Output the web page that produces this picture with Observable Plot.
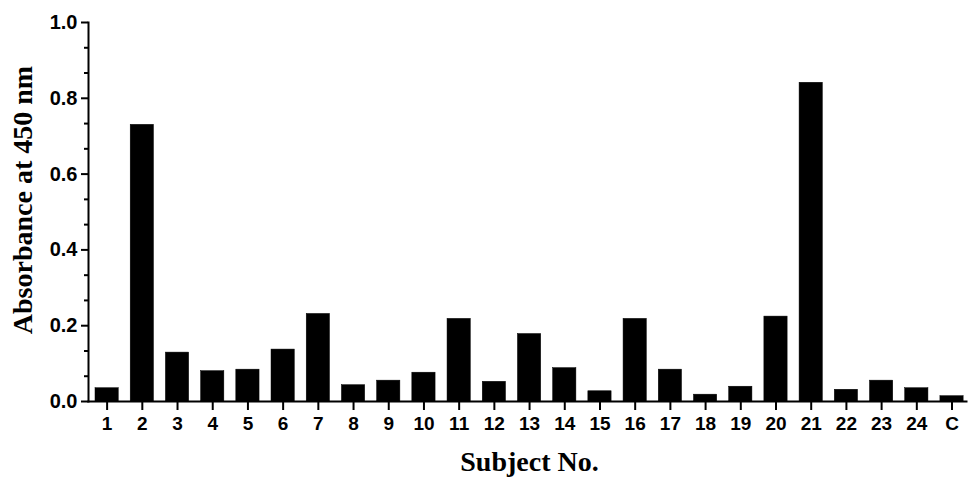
<!DOCTYPE html>
<html>
<head>
<meta charset="utf-8">
<script src="https://cdn.jsdelivr.net/npm/d3@7"></script>
<script src="https://cdn.jsdelivr.net/npm/@observablehq/plot@0.6"></script>
<style>
  html, body { margin: 0; padding: 0; background: #fff; }
  #chart svg { display: block; }
</style>
</head>
<body>
<div id="chart"></div>
<script>
const subjects = ["1","2","3","4","5","6","7","8","9","10","11","12","13","14","15","16","17","18","19","20","21","22","23","24","C"];
const absorbance = [0.035, 0.730, 0.129, 0.080, 0.084, 0.137, 0.231, 0.043, 0.055, 0.076, 0.218, 0.052, 0.178, 0.088, 0.027, 0.218, 0.084, 0.018, 0.039, 0.224, 0.841, 0.031, 0.055, 0.035, 0.014];
const majorTicks = [0, 0.2, 0.4, 0.6, 0.8, 1.0];
const minorTicks = [0.0667, 0.1333, 0.2667, 0.3333, 0.4667, 0.5333, 0.6667, 0.7333, 0.8667, 0.9333];
const yTitle = "Absorbance at 450 nm";
const xTitle = "Subject No.";

const data = subjects.map((s, i) => ({subject: s, value: absorbance[i]}));

const chart = Plot.plot({
  width: 968,
  height: 482,
  marginTop: 22,
  marginBottom: 81,
  marginLeft: 88,
  marginRight: 2,
  style: {fontFamily: "'Liberation Sans', Arial, sans-serif", fontWeight: "bold", background: "#fff", color: "#000"},
  x: {type: "band", domain: subjects, paddingInner: 0.34, paddingOuter: 0.14, align: 0.71, round: false, axis: null, label: null},
  y: {domain: [0, 1], axis: null, label: null},
  marks: [
    Plot.barY(data, {x: "subject", y: "value", fill: "#000", stroke: "#000", strokeWidth: 0.5}),
    Plot.axisY({ticks: minorTicks, tickSize: 4, strokeWidth: 2, text: null, label: null}),
    Plot.axisY({ticks: majorTicks, tickSize: 7, tickPadding: 4, strokeWidth: 2, tickFormat: d3.format(".1f"), fontSize: 20, fontWeight: "bold", label: null}),
    Plot.axisX({tickSize: 9, tickPadding: 6, strokeWidth: 2, fontSize: 19, fontWeight: "bold", label: null}),
    Plot.frame({anchor: "left", strokeWidth: 2}),
    Plot.frame({anchor: "bottom", strokeWidth: 2}),
    Plot.text([yTitle], {frameAnchor: "left", text: d => d, rotate: -90, textAnchor: "middle", dx: -65, dy: -12, fontSize: 28, fontWeight: "bold", fontFamily: "'Liberation Serif', 'Times New Roman', serif"}),
    Plot.text([xTitle], {frameAnchor: "bottom", text: d => d, textAnchor: "middle", dx: 2, dy: 69, fontSize: 28, fontWeight: "bold", fontFamily: "'Liberation Serif', 'Times New Roman', serif"})
  ]
});
document.getElementById("chart").appendChild(chart);
</script>
</body>
</html>
